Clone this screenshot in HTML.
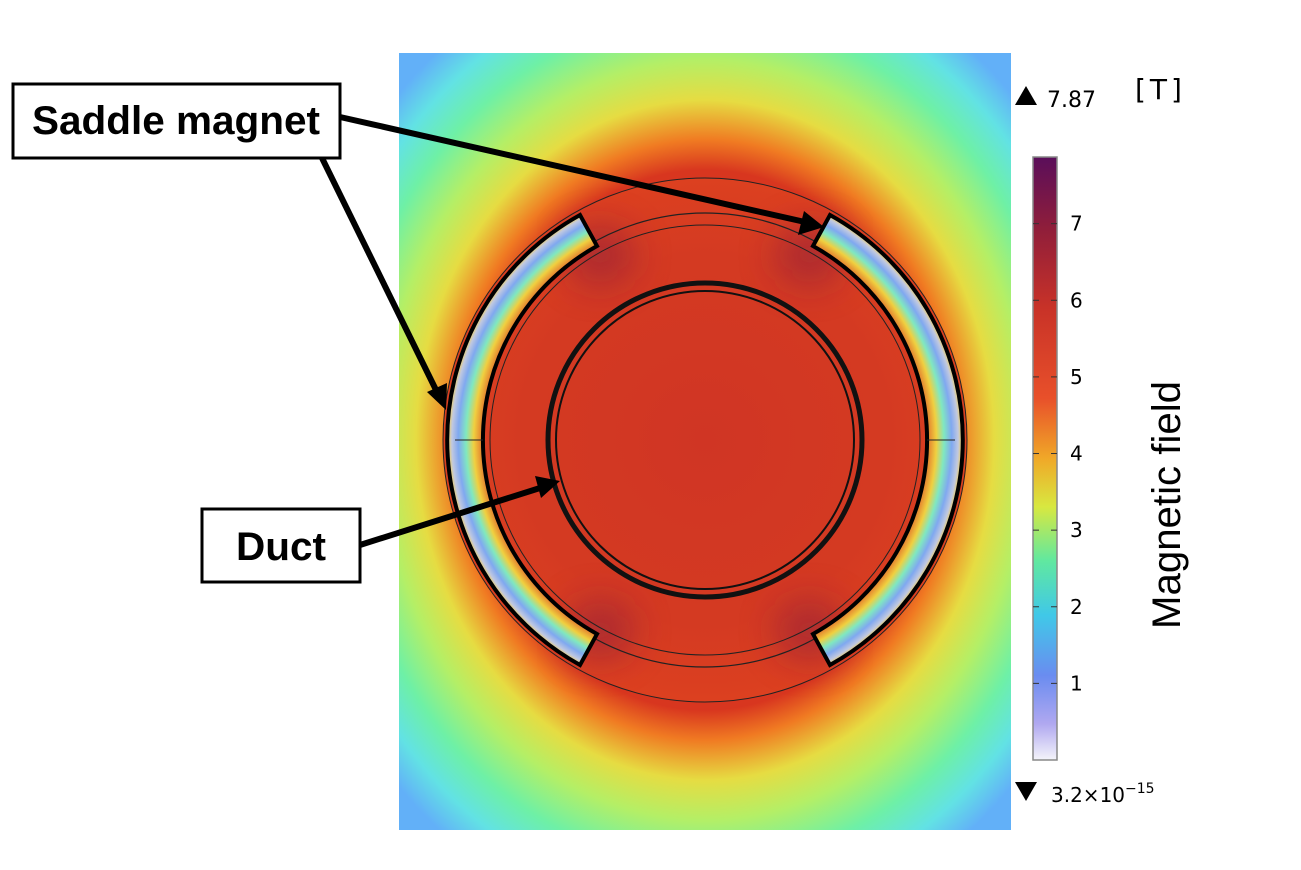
<!DOCTYPE html>
<html><head><meta charset="utf-8">
<style>
body{margin:0;background:#fff;width:1301px;height:865px;overflow:hidden;font-family:"Liberation Sans",sans-serif}
</style></head>
<body>
<svg width="1301" height="865" viewBox="0 0 1301 865">
<defs>
<radialGradient id="field" gradientUnits="userSpaceOnUse" cx="705" cy="440" r="500" gradientTransform="translate(705,440) scale(0.85,1) translate(-705,-440)">
<stop offset="0" stop-color="#d2321f"/>
<stop offset="0.54" stop-color="#d8361f"/>
<stop offset="0.6" stop-color="#f07a22"/>
<stop offset="0.68" stop-color="#e6dc42"/>
<stop offset="0.76" stop-color="#b4ef66"/>
<stop offset="0.85" stop-color="#6ef0a6"/>
<stop offset="0.93" stop-color="#62e2e4"/>
<stop offset="1" stop-color="#62b0f8"/>
</radialGradient>
<radialGradient id="mag" gradientUnits="userSpaceOnUse" cx="705" cy="440" r="257">
<stop offset="0.86" stop-color="#e06a2a"/>
<stop offset="0.9" stop-color="#f0d040"/>
<stop offset="0.93" stop-color="#80e8c0"/>
<stop offset="0.96" stop-color="#80a8f0"/>
<stop offset="0.985" stop-color="#c0c8e0"/>
<stop offset="1" stop-color="#f0d060"/>
</radialGradient>
<radialGradient id="inner" gradientUnits="userSpaceOnUse" cx="705" cy="440" r="262">
<stop offset="0" stop-color="#d03524"/>
<stop offset="0.7" stop-color="#d43a22"/>
<stop offset="1" stop-color="#dc4020"/>
</radialGradient>
<linearGradient id="cbar" x1="0" y1="1" x2="0" y2="0">
<stop offset="0" stop-color="#f4f4fa"/>
<stop offset="0.06" stop-color="#b0a8f0"/>
<stop offset="0.14" stop-color="#6a8cf0"/>
<stop offset="0.24" stop-color="#40c8e8"/>
<stop offset="0.33" stop-color="#60e8a0"/>
<stop offset="0.42" stop-color="#d8e840"/>
<stop offset="0.5" stop-color="#f0a828"/>
<stop offset="0.6" stop-color="#e8502a"/>
<stop offset="0.75" stop-color="#c83228"/>
<stop offset="0.88" stop-color="#901e3a"/>
<stop offset="1" stop-color="#5a0e5a"/>
</linearGradient>
<filter id="blur"><feGaussianBlur stdDeviation="18"/></filter>
</defs>

<rect x="399" y="53" width="612" height="777" fill="url(#field)"/>
<circle cx="705" cy="440" r="262" fill="url(#inner)"/>
<g filter="url(#blur)" opacity="0.55">
<ellipse cx="600" cy="255" rx="35" ry="30" fill="#8a1c3c"/>
<ellipse cx="810" cy="255" rx="35" ry="30" fill="#8a1c3c"/>
<ellipse cx="600" cy="630" rx="35" ry="30" fill="#8a1c3c"/>
<ellipse cx="810" cy="630" rx="35" ry="30" fill="#8a1c3c"/>
</g>

<circle cx="705" cy="440" r="262" fill="none" stroke="#222" stroke-width="1"/>
<circle cx="705" cy="440" r="227" fill="none" stroke="#222" stroke-width="1.2"/>
<circle cx="705" cy="440" r="215" fill="none" stroke="#222" stroke-width="1"/>

<path d="M 580 215 A 257 257 0 0 0 580 665 L 597 634 A 222 222 0 0 1 597 246 Z" fill="url(#mag)" stroke="#000" stroke-width="4"/>
<path d="M 830 215 A 257 257 0 0 1 830 665 L 813 634 A 222 222 0 0 0 813 246 Z" fill="url(#mag)" stroke="#000" stroke-width="4"/>
<line x1="455" y1="440" x2="483" y2="440" stroke="#222" stroke-width="1"/>
<line x1="927" y1="440" x2="955" y2="440" stroke="#222" stroke-width="1"/>

<circle cx="705" cy="440" r="157" fill="none" stroke="#111" stroke-width="5"/>
<circle cx="705" cy="440" r="149" fill="none" stroke="#111" stroke-width="2"/>

<g>
<rect x="13" y="84" width="327" height="74" fill="#fff" stroke="#000" stroke-width="3"/>
<text x="176" y="134" text-anchor="middle" font-size="40" font-weight="bold" textLength="288" lengthAdjust="spacingAndGlyphs">Saddle magnet</text>
</g>
<g>
<rect x="202" y="509" width="158" height="73" fill="#fff" stroke="#000" stroke-width="3"/>
<text x="281" y="560" text-anchor="middle" font-size="40" font-weight="bold" textLength="90" lengthAdjust="spacingAndGlyphs">Duct</text>
</g>
<g stroke="#000" stroke-width="6" fill="#000">
<line x1="340" y1="117" x2="805" y2="222"/>
<polygon points="824,227 798,235 804,211" stroke="none"/>
<line x1="322" y1="158" x2="437" y2="392"/>
<polygon points="446,410 427,392 447,383" stroke="none"/>
<line x1="360" y1="545" x2="540" y2="488"/>
<polygon points="560,481 541,498 535,476" stroke="none"/>
</g>

<g>
<rect x="1033" y="157" width="24" height="603" fill="url(#cbar)" stroke="#888" stroke-width="1.5"/>
<g id="cbticks"></g>
<polygon points="1015,105 1037,105 1026,86" fill="#000"/>
<text x="1047" y="107" font-size="22" font-family="DejaVu Sans, sans-serif">7.87</text>
<text x="1135" y="99" font-size="28" letter-spacing="4" font-family="DejaVu Sans, sans-serif">[T]</text>
<polygon points="1015,782 1037,782 1026,801" fill="#000"/>
<text x="1051" y="802" font-size="20" font-family="DejaVu Sans, sans-serif">3.2×10<tspan dy="-9" font-size="14">−15</tspan></text>
<text transform="translate(1180,505) rotate(-90)" text-anchor="middle" font-size="40" textLength="248" lengthAdjust="spacingAndGlyphs">Magnetic field</text>
</g>
</svg>
<script>
const tickValues=[1,2,3,4,5,6,7];
const tickLabels=["1","2","3","4","5","6","7"];
const cbMin=0, cbMax=7.87;
function cy(v){return 760-(v-cbMin)/(cbMax-cbMin)*603;}
const g=document.getElementById('cbticks');
const ns="http://www.w3.org/2000/svg";
tickValues.forEach((v,i)=>{
  const y=cy(v);
  const l=document.createElementNS(ns,'line');
  
  
  l.setAttribute('x1',1033);l.setAttribute('x2',1039);l.setAttribute('y1',y);l.setAttribute('y2',y);
  l.setAttribute('stroke','#333');
  g.appendChild(l);
  const l2=document.createElementNS(ns,'line');
  
  
  l2.setAttribute('x1',1051);l2.setAttribute('x2',1057);l2.setAttribute('y1',y);l2.setAttribute('y2',y);
  l2.setAttribute('stroke','#333');
  g.appendChild(l2);
  const t=document.createElementNS(ns,'text');
  
  
  t.setAttribute('x',1070);t.setAttribute('y',y+7);
  t.setAttribute('font-size','20');
  t.setAttribute('font-family','DejaVu Sans, sans-serif');
  t.textContent=tickLabels[i];
  g.appendChild(t);
});
</script>
</body></html>
